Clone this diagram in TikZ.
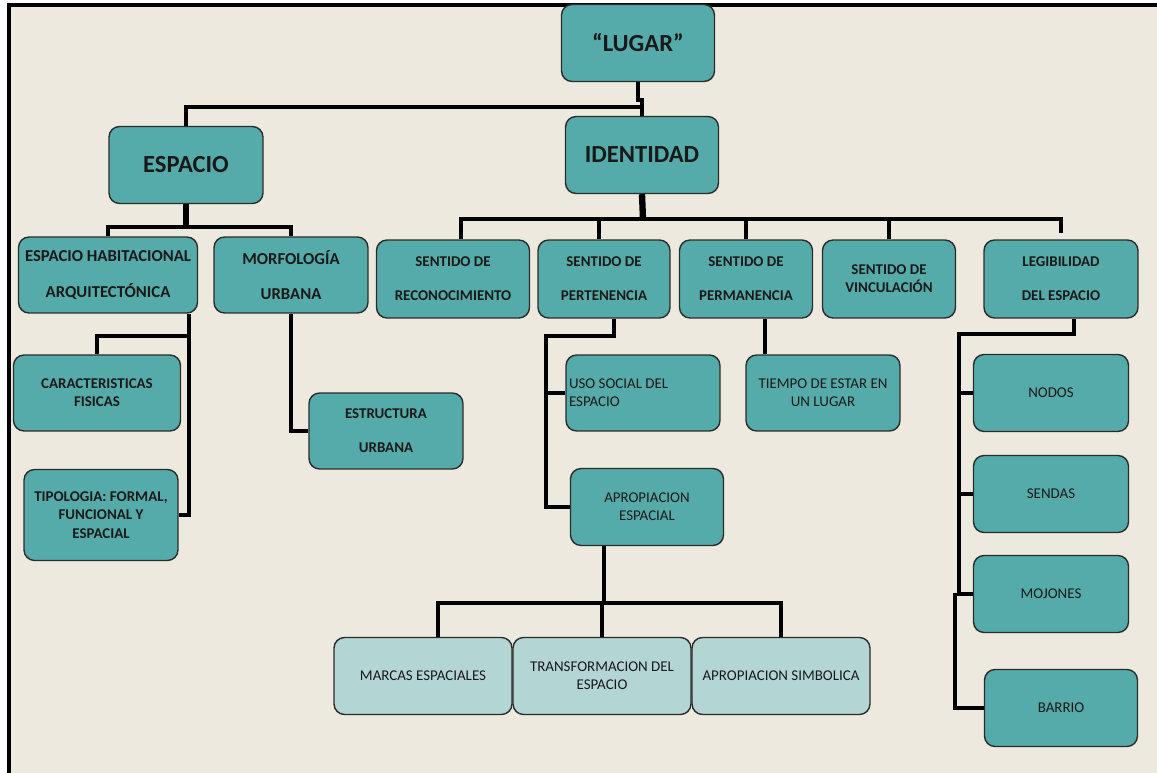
\documentclass[tikz,border=0pt]{standalone}
\usepackage{fontspec}
\setmainfont{Carlito}

\definecolor{fondo}{HTML}{EDE9DE}
\definecolor{verde}{HTML}{55ABAA}
\definecolor{claro}{HTML}{B3D6D5}
\definecolor{borde}{HTML}{2B2B2B}

\begin{document}
\begin{tikzpicture}[x=0.02cm,y=-0.02cm,
  caja/.style={draw=borde,line width=0.8pt,fill=verde,rounded corners=6pt,
    align=center,inner sep=0pt,text=black!90},
  cajaclara/.style={caja,fill=claro},
  grande/.style={font=\fontsize{14}{17}\selectfont\bfseries},
  media/.style={font=\fontsize{9.5}{11.4}\selectfont\bfseries},
  chica/.style={font=\fontsize{8.5}{10.4}\selectfont\bfseries},
  normal/.style={font=\fontsize{8.5}{10.4}\selectfont},
  conector/.style={line width=2.1pt},
  grueso/.style={line width=3.6pt}]

\useasboundingbox (0,0) rectangle (1157,773);
\fill[white] (0,0) rectangle (1157,773);
\fill[fondo] (9,5) rectangle (1157,773);
\draw[line width=1.8pt] (1157,5) -- (9,5) -- (9,773);

% nivel 1
\node[caja,grande,minimum width=3.06cm,minimum height=1.54cm] (lugar) at (638,43) {``LUGAR''};
\node[caja,grande,minimum width=3.08cm,minimum height=1.54cm] (espacio) at (186,165) {ESPACIO};
\node[caja,grande,minimum width=3.06cm,minimum height=1.54cm] (identidad) at (642,155) {IDENTIDAD};

% espacio
\node[caja,media,minimum width=3.58cm,minimum height=1.52cm] (habitacional) at (108,275) {ESPACIO HABITACIONAL\\[9pt]ARQUITECTÓNICA};
\node[caja,media,minimum width=3.08cm,minimum height=1.52cm] (morfologia) at (291,275) {MORFOLOGÍA\\[9pt]URBANA};
\node[caja,chica,minimum width=3.34cm,minimum height=1.52cm] (caracteristicas) at (97,393) {CARACTERISTICAS\\FISICAS};
\node[caja,chica,minimum width=3.08cm,minimum height=1.82cm] (tipologia) at (101,515) {TIPOLOGIA: FORMAL,\\FUNCIONAL Y\\ESPACIAL};
\node[caja,chica,minimum width=3.08cm,minimum height=1.52cm] (estructura) at (386,431) {ESTRUCTURA\\[9pt]URBANA};

% identidad
\node[caja,chica,minimum width=3.06cm,minimum height=1.56cm] (reconocimiento) at (453,279) {SENTIDO DE\\[9pt]RECONOCIMIENTO};
\node[caja,chica,minimum width=2.64cm,minimum height=1.56cm] (pertenencia) at (604,279) {SENTIDO DE\\[9pt]PERTENENCIA};
\node[caja,chica,minimum width=2.66cm,minimum height=1.56cm] (permanencia) at (746,279) {SENTIDO DE\\[9pt]PERMANENCIA};
\node[caja,chica,minimum width=2.66cm,minimum height=1.56cm] (vinculacion) at (889,279) {SENTIDO DE\\VINCULACIÓN};
\node[caja,chica,minimum width=3.08cm,minimum height=1.56cm] (legibilidad) at (1061,279) {LEGIBILIDAD\\[9pt]DEL ESPACIO};

\node[caja,normal,text width=2.96cm,inner xsep=0.06cm,align=flush left,minimum height=1.52cm] (usosocial) at (643,393) {USO SOCIAL DEL\\ESPACIO};
\node[caja,normal,minimum width=3.08cm,minimum height=1.52cm] (tiempo) at (823,393) {TIEMPO DE ESTAR EN\\UN LUGAR};
\node[caja,normal,minimum width=3.06cm,minimum height=1.54cm] (apropiacion) at (647,507) {APROPIACION\\ESPACIAL};

\node[cajaclara,normal,minimum width=3.56cm,minimum height=1.54cm] (marcas) at (423,676) {MARCAS ESPACIALES};
\node[cajaclara,normal,minimum width=3.56cm,minimum height=1.54cm] (transformacion) at (602,676) {TRANSFORMACION DEL\\ESPACIO};
\node[cajaclara,normal,minimum width=3.56cm,minimum height=1.54cm] (simbolica) at (781,676) {APROPIACION SIMBOLICA};

\node[caja,normal,minimum width=3.1cm,minimum height=1.54cm] (nodos) at (1051,393) {NODOS};
\node[caja,normal,minimum width=3.1cm,minimum height=1.54cm] (sendas) at (1051,494) {SENDAS};
\node[caja,normal,minimum width=3.1cm,minimum height=1.54cm] (mojones) at (1051,594) {MOJONES};
\node[caja,normal,minimum width=3.06cm,minimum height=1.54cm] (barrio) at (1061,708) {BARRIO};

% puntos de union
\coordinate (k1) at (640,100);
\coordinate (k2) at (643,107);
\coordinate (k3) at (186,227);
\coordinate (k4) at (189,336);
\coordinate (k5) at (643,219);
\coordinate (k6) at (546,336);
\coordinate (k7) at (604,603);
\coordinate (k8) at (959,334);
\coordinate (k9) at (955,593);

% lugar
\draw[conector] (lugar.south) |- (k1) -| (identidad.north);
\draw[conector] (espacio.north) |- (k2);

% espacio
\draw[grueso] (espacio.south) -- (k3);
\draw[conector] (habitacional.north) |- (morfologia.north |- k3) -- (morfologia.north);
\draw[conector] ([xshift=-0.18cm]habitacional.south east) |- (tipologia.east);
\draw[conector] (caracteristicas.north) |- (k4);
\draw[conector] (morfologia.south) |- (estructura.west);

% identidad
\draw[grueso] (identidad.south) -- (k5);
\draw[conector] ([xshift=0.16cm]reconocimiento.north) |- (k5) -| ([yshift=0.12cm]legibilidad.north);
\draw[conector] ([xshift=-0.1cm]pertenencia.north) -- ([xshift=-0.1cm]pertenencia.north |- k5);
\draw[conector] (permanencia.north) -- (permanencia.north |- k5);
\draw[conector] (vinculacion.north) -- (vinculacion.north |- k5);

\draw[conector] ([xshift=0.2cm]pertenencia.south) |- (k6) |- (apropiacion.west);
\draw[conector] (usosocial.west) -- (usosocial.west -| k6);
\draw[conector] ([xshift=0.4cm]tiempo.north west) -- ([xshift=0.4cm]tiempo.north west |- permanencia.south);

\draw[conector] (k7 |- apropiacion.south) -- (k7);
\draw[conector] ([xshift=0.3cm]marcas.north) |- (k7) -| (simbolica.north);
\draw[conector] (transformacion.north) -- (transformacion.north |- k7);

% legibilidad
\draw[line width=2.6pt] ([xshift=0.26cm]legibilidad.south) |- (k8) |- (mojones.west);
\draw[conector] (nodos.west) -- (nodos.west -| k8);
\draw[conector] (sendas.west) -- (sendas.west -| k8);
\draw[line width=2.6pt] (k9) |- (barrio.west);

\end{tikzpicture}
\end{document}
